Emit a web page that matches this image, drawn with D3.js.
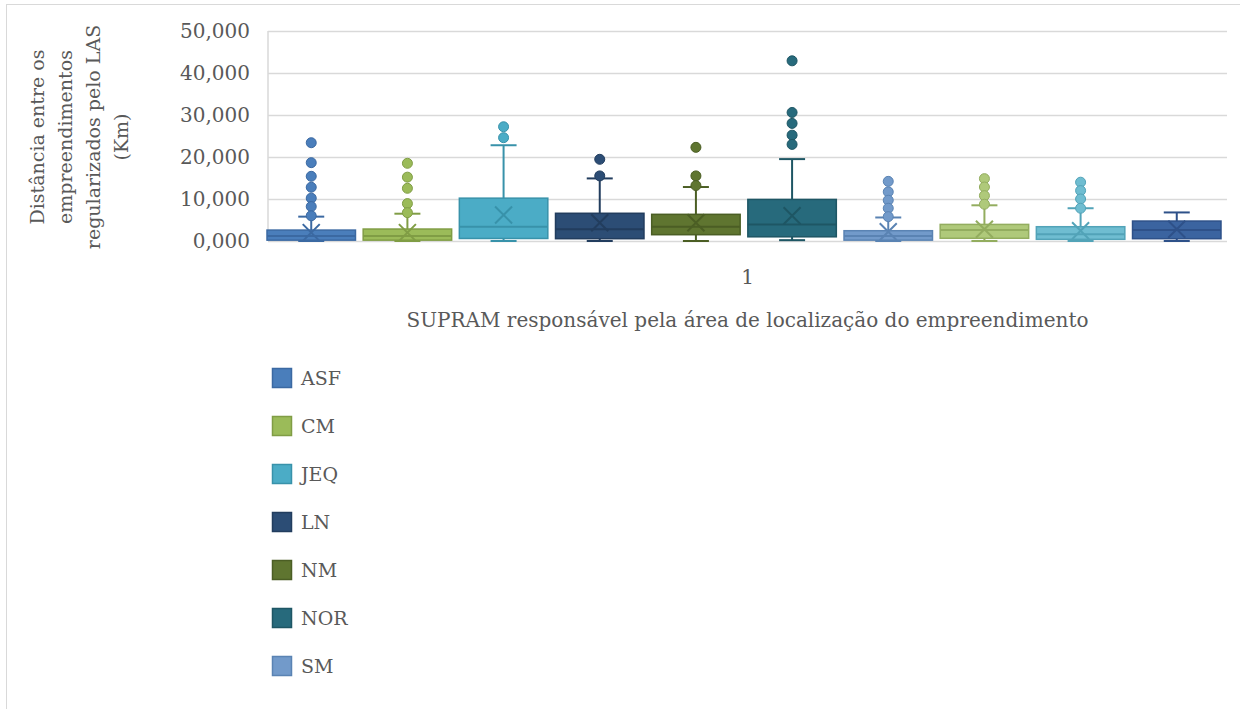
<!DOCTYPE html>
<html lang="pt-BR">
<head>
<meta charset="utf-8">
<script src="https://cdn.jsdelivr.net/npm/d3@7"></script>
<style>
  html, body { margin: 0; padding: 0; background: #ffffff; }
  svg { display: block; }
  text { font-family: "DejaVu Serif", "Liberation Serif", serif; fill: #595959; }
</style>
</head>
<body>
<svg id="chart" width="1240" height="709"></svg>
<script>
// Distance (km) between enterprises licensed by LAS, per SUPRAM region
const series = ["ASF", "CM", "JEQ", "LN", "NM", "NOR", "SM", "TM", "TMAP", "ZM"];
const fillColors   = ["#4a7ebb", "#9bbb59", "#4bacc6", "#2c4d75", "#5f7530", "#276a7c", "#729aca", "#afc97a", "#6fbdd1", "#3b64a0"];
const strokeColors = ["#3b69a2", "#809d45", "#3892aa", "#223d5e", "#4b5e24", "#1e5664", "#5a83b3", "#93ad5f", "#52a3b8", "#2e5189"];

const whiskerLow  = [0.0, 0.0, 0.0, 0.0, 0.0, 0.2, 0.0, 0.0, 0.0, 0.0];
const q1          = [0.2, 0.2, 0.6, 0.55, 1.5, 1.0, 0.2, 0.65, 0.4, 0.55];
const median      = [1.2, 1.2, 3.4, 2.8, 3.4, 3.95, 1.2, 2.6, 1.6, 2.6];
const q3          = [2.6, 2.85, 10.2, 6.6, 6.35, 9.9, 2.45, 3.95, 3.4, 4.75];
const whiskerHigh = [5.8, 6.5, 22.8, 14.9, 12.85, 19.5, 5.6, 8.5, 7.8, 6.8];
const mean        = [2.0, 2.0, 6.2, 4.35, 4.35, 6.0, 2.2, 2.8, 2.45, 2.8];
const outliers = [
  [23.4, 18.65, 15.4, 12.8, 10.2, 8.2, 6.0],
  [18.5, 15.2, 12.55, 8.9, 6.75],
  [27.2, 24.6],
  [19.45, 15.5],
  [22.3, 15.5, 13.2],
  [42.9, 30.6, 28.0, 25.2, 23.0],
  [14.2, 11.7, 9.7, 7.8, 5.8],
  [14.85, 12.85, 10.8, 8.75],
  [14.0, 12.0, 10.0, 7.8],
  []
];

const yTicks = [0, 10, 20, 30, 40, 50];
const categoryLabel = "1";
const xTitle = "SUPRAM responsável pela área de localização do empreendimento";
const yTitleLines = ["Distância entre os", "empreendimentos", "regularizados pelo LAS", "(Km)"];
// The legend box only has room for the first seven entries
const legendCount = 7;

const svg = d3.select("#chart");

// chart area frame
svg.append("rect")
  .attr("x", 6.5).attr("y", 4.5).attr("width", 1400).attr("height", 900)
  .attr("fill", "none").attr("stroke", "#d9d9d9");

const plot = { left: 268, right: 1227, top: 31, bottom: 241 };

const ptBR = d3.formatLocale({ decimal: ",", thousands: ".", grouping: [3], currency: ["R$", ""] });
const fmt = ptBR.format(".3f");

const y = d3.scaleLinear().domain([0, 50]).range([plot.bottom, plot.top]);
const x = d3.scaleBand().domain(series).range([plot.left - 1, plot.right - 6]).paddingInner(0.08).paddingOuter(0);

// grid lines + y tick labels
const yAxis = d3.axisLeft(y).tickValues(yTicks).tickFormat(fmt).tickSize(-(plot.right - plot.left)).tickPadding(18);
const gy = svg.append("g").attr("transform", `translate(${plot.left},0)`).call(yAxis);
gy.select(".domain").remove();
gy.selectAll(".tick line").attr("stroke", "#d9d9d9").attr("stroke-width", 1.5);
gy.selectAll(".tick text")
  .style("font-family", "'DejaVu Serif', serif").style("font-size", "20px").attr("fill", "#595959");

// vertical axis line
svg.append("line")
  .attr("x1", plot.left).attr("x2", plot.left).attr("y1", plot.top).attr("y2", plot.bottom)
  .attr("stroke", "#d9d9d9").attr("stroke-width", 1.5);

// boxes
const bw = x.bandwidth();
const capW = 26;
const groups = svg.append("g").selectAll("g").data(series).join("g")
  .attr("transform", d => `translate(${x(d)},0)`);

groups.each(function (d, i) {
  const g = d3.select(this);
  const cx = bw / 2;
  const sc = strokeColors[i];
  // whiskers
  g.append("line").attr("x1", cx).attr("x2", cx).attr("y1", y(q3[i])).attr("y2", y(whiskerHigh[i]))
    .attr("stroke", sc).attr("stroke-width", 2);
  g.append("line").attr("x1", cx - capW / 2).attr("x2", cx + capW / 2).attr("y1", y(whiskerHigh[i])).attr("y2", y(whiskerHigh[i]))
    .attr("stroke", sc).attr("stroke-width", 2);
  g.append("line").attr("x1", cx).attr("x2", cx).attr("y1", y(q1[i])).attr("y2", y(whiskerLow[i]))
    .attr("stroke", sc).attr("stroke-width", 2);
  g.append("line").attr("x1", cx - capW / 2).attr("x2", cx + capW / 2).attr("y1", y(whiskerLow[i])).attr("y2", y(whiskerLow[i]))
    .attr("stroke", sc).attr("stroke-width", 2);
  // box
  g.append("rect").attr("x", 0).attr("width", bw)
    .attr("y", y(q3[i])).attr("height", y(q1[i]) - y(q3[i]))
    .attr("fill", fillColors[i]).attr("stroke", sc).attr("stroke-width", 1.5);
  // median
  g.append("line").attr("x1", 0).attr("x2", bw).attr("y1", y(median[i])).attr("y2", y(median[i]))
    .attr("stroke", sc).attr("stroke-width", 2);
  // mean marker
  const my = y(mean[i]), s = 8.5;
  g.append("path")
    .attr("d", `M${cx - s},${my - s}L${cx + s},${my + s}M${cx - s},${my + s}L${cx + s},${my - s}`)
    .attr("stroke", sc).attr("stroke-width", 2).attr("fill", "none");
  // outliers
  g.selectAll("circle").data(outliers[i]).join("circle")
    .attr("cx", cx).attr("cy", v => y(v)).attr("r", 5)
    .attr("fill", fillColors[i]).attr("stroke", sc).attr("stroke-width", 1);
});

// category label and x-axis title
const midX = (plot.left + plot.right) / 2;
svg.append("text").attr("x", midX).attr("y", 284).attr("text-anchor", "middle")
  .style("font-size", "20px").text(categoryLabel);
svg.append("text").attr("x", midX).attr("y", 327).attr("text-anchor", "middle")
  .style("font-size", "20px").text(xTitle);

// y-axis title, one rotated line per row
yTitleLines.forEach((line, k) => {
  svg.append("text")
    .attr("transform", `translate(${44 + k * 28},${137}) rotate(-90)`)
    .attr("text-anchor", "middle")
    .style("font-size", "19px")
    .text(line);
});

// legend
const legend = svg.append("g").selectAll("g").data(series.slice(0, legendCount)).join("g")
  .attr("transform", (d, i) => `translate(272,${378 + i * 48})`);
legend.append("rect").attr("x", 0.5).attr("y", -9.5).attr("width", 19).attr("height", 19)
  .attr("fill", (d, i) => fillColors[i]).attr("stroke", (d, i) => strokeColors[i]).attr("stroke-width", 1.5);
legend.append("text").attr("x", 29).attr("y", 7).style("font-size", "19px").text(d => d);
</script>
</body>
</html>
